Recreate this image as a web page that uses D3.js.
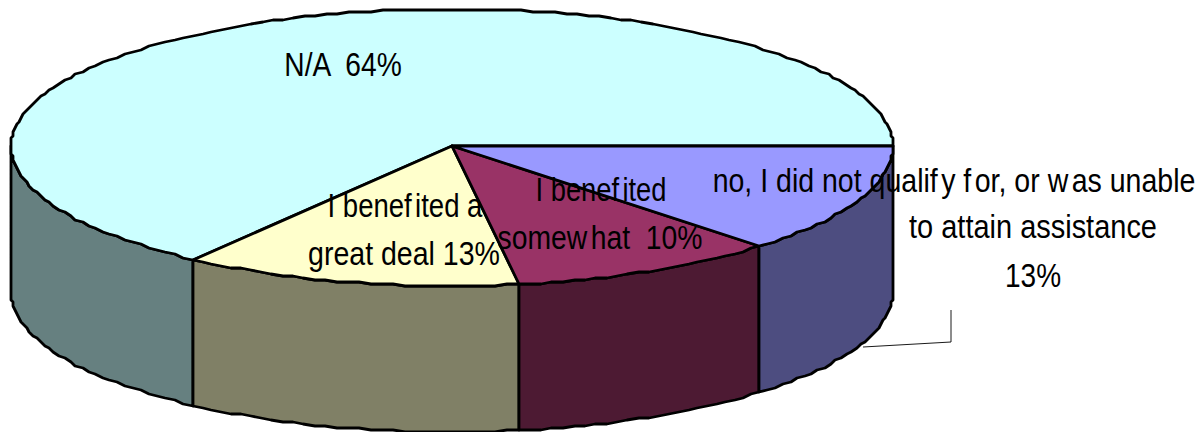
<!DOCTYPE html>
<html><head><meta charset="utf-8">
<script src="https://cdn.jsdelivr.net/npm/d3@7"></script>
<style>html,body{margin:0;padding:0;background:#fff}svg{display:block}</style>
</head><body><svg id="c" width="1197" height="432"></svg>
<script>
const categories = ["N/A","I benefited a great deal","I benefited somewhat","no, I did not qualify for, or was unable to attain assistance"];
const shares = [65.0,12.4,9.9,12.7];
const topColors = ["#CCFFFF","#FFFFCC","#993366","#9999FF"];
const sideColors = ["#668080","#808066","#4D1A33","#4D4D80"];
// ">" widens the gap at that point, as in the source's uneven letter spacing
const labelLines = [
  [{t:"N/A  64%",x:343,y:76,w:119}],
  [{t:"I benef>ited a",x:405,y:217,w:155},{t:"great deal 13%",x:404,y:265,w:192}],
  [{t:"I benef>ited",x:601,y:201,w:131},{t:"somew>hat  10%",x:600,y:249,w:205}],
  [{t:"no, I did not qualif>y f>or, or w>as unable",x:954,y:192,w:483},{t:"to attain assistance",x:1033,y:238,w:248},{t:"13%",x:1033,y:287,w:56}]
];
const svg = d3.select("#c");
const X = d3.scaleLinear().domain([-1,1]).range([11,893]);
const Y = d3.scaleLinear().domain([-1,0,1]).range([9,146,286]);
const depth = 146;
const gridX = 2, gridY = 2;
const ang = d3.scaleLinear().domain([0,100]).range([0,2*Math.PI]);
let acc=0;
const slices = shares.map((v,i)=>{const a0=ang(acc);acc+=v;return {i,a0,a1:ang(acc)};});
const snap=(v,o,q)=>o+Math.round((v-o)/q)*q;
const px = a=>snap(X(Math.cos(a)),X(-1),gridX);
const py = a=>snap(Y(Math.sin(a)),Y(0),gridY);
const line = d3.line();
const step = Math.PI/120;
function arcPts(a0,a1){
  const n=Math.max(2,Math.ceil(Math.abs(a1-a0)/step));
  return d3.range(n+1).map(k=>{const a=a0+(a1-a0)*k/n;return [px(a),py(a)];});
}
const flip=a=>2*Math.PI-a;
const g=svg.append("g").attr("stroke","#000").attr("stroke-width",2.8).attr("stroke-linejoin","round");
slices.forEach(s=>{
  const lo=Math.max(flip(s.a1),0), hi=Math.min(flip(s.a0),Math.PI);
  if(hi<=lo) return;
  const pts=arcPts(lo,hi);
  const bottom=pts.slice().reverse().map(p=>[p[0],p[1]+depth]);
  g.append("path").attr("d",line(pts.concat(bottom))+"Z").attr("fill",sideColors[s.i]);
});
slices.forEach(s=>{
  const pts=arcPts(flip(s.a0),flip(s.a1));
  pts.unshift([X(0),Y(0)]);
  g.append("path").attr("d",line(pts)+"Z").attr("fill",topColors[s.i]);
});
const leader=[[863,347],[951,342],[951,310]];
svg.append("path").attr("d",line(leader)).attr("fill","none").attr("stroke","#000").attr("stroke-width",0.9);
const ctx=document.createElement("canvas").getContext("2d");
const fontSize=33, gap=4;
ctx.font=fontSize+"px 'Liberation Sans'";
labelLines.forEach(ls=>ls.forEach(l=>{
  const parts=l.t.split(/(?=>)/).map(p=>{
    const d=p[0]===">"?gap:0;
    return {d,s:d?p.slice(1):p};
  });
  const nat=d3.sum(parts,p=>p.d)+ctx.measureText(parts.map(p=>p.s).join("")).width;
  const text=svg.append("text").style("white-space","pre").attr("text-anchor","middle")
    .attr("transform",`translate(${l.x},${l.y}) scale(${l.w/nat},1)`)
    .attr("font-family","'Liberation Sans',Arial,sans-serif").attr("font-size",fontSize).attr("fill","#000");
  parts.forEach(p=>text.append("tspan").attr("dx",p.d).text(p.s));
}));
</script></body></html>
